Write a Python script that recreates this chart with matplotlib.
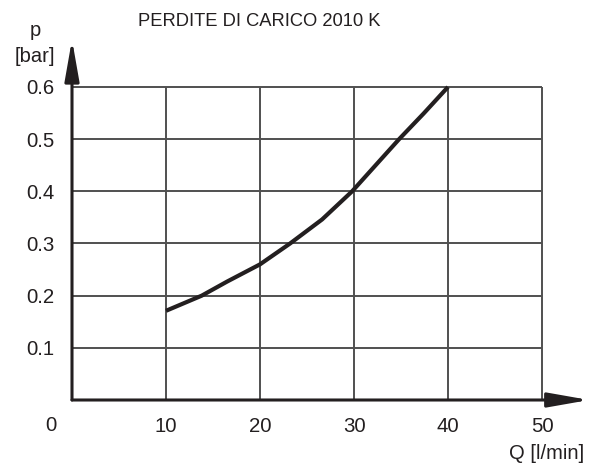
import matplotlib
matplotlib.use("Agg")
import matplotlib.pyplot as plt

plt.rcParams['font.family'] = ['Liberation Sans', 'DejaVu Sans']

# Data
flow = [10, 13.8, 16.5, 20, 23.2, 26.6, 29.8, 34.8, 37.4, 40]          # Q [l/min]
pressure = [0.171, 0.200, 0.227, 0.260, 0.300, 0.346, 0.400, 0.500, 0.549, 0.600]  # p [bar]
x_ticks = [10, 20, 30, 40, 50]
x_labels = ["10", "20", "30", "40", "50"]
y_ticks = [0.1, 0.2, 0.3, 0.4, 0.5, 0.6]
y_labels = ["0.1", "0.2", "0.3", "0.4", "0.5", "0.6"]
title = "PERDITE DI CARICO 2010 K"
x_name = "Q [l/min]"
y_name_1 = "p"
y_name_2 = "[bar]"

W, H = 592, 465
fig = plt.figure(figsize=(W / 100, H / 100), dpi=100)
ax = fig.add_axes([72 / W, (H - 400) / H, 520 / W, 362 / H])
ax.set_xlim(0, 520 / 9.4)
ax.set_ylim(0, 362 / 521.7)
for s in ax.spines.values():
    s.set_visible(False)

grid_c = '#505050'
ax.vlines(x_ticks, 0, y_ticks[-1], colors=grid_c, lw=1.4, zorder=1)
ax.hlines(y_ticks, 0, x_ticks[-1], colors=grid_c, lw=1.4, zorder=1)

ax.plot(flow, pressure, color='#231f20', lw=3, solid_capstyle='butt',
        solid_joinstyle='round', zorder=3)

# axes with arrows
arrow_kw = dict(arrowstyle='-|>,head_length=1.25,head_width=0.22', mutation_scale=20,
                lw=2.2, color='#231f20', shrinkA=0, shrinkB=0)
ax.annotate('', xy=(ax.get_xlim()[1] - 0.3, 0), xytext=(0, 0), arrowprops=arrow_kw,
            annotation_clip=False, zorder=4)
ax.annotate('', xy=(0, ax.get_ylim()[1] - 0.003), xytext=(0, 0), arrowprops=arrow_kw,
            annotation_clip=False, zorder=4)

ax.set_xticks(x_ticks, x_labels)
ax.set_yticks(y_ticks, y_labels)
ax.tick_params(length=0, labelsize=14.7, colors='#231f20', pad=12.5)
ax.annotate('0', xy=(0, 0), xytext=(-21, -25), textcoords='offset pixels',
            ha='center', va='center', fontsize=14.7, color='#231f20', annotation_clip=False)

fig.text(138 / W, 1 - 21.5 / H, title, ha='left', va='center', fontsize=13.2, color='#231f20')
fig.text(547 / W, 1 - 453 / H, x_name, ha='center', va='center', fontsize=14.5, color='#231f20')
fig.text(35 / W, 1 - 30 / H, y_name_1, ha='center', va='center', fontsize=14.5, color='#231f20')
fig.text(35 / W, 1 - 57 / H, y_name_2, ha='center', va='center', fontsize=14.5, color='#231f20')

fig.savefig('out.png', dpi=100)
